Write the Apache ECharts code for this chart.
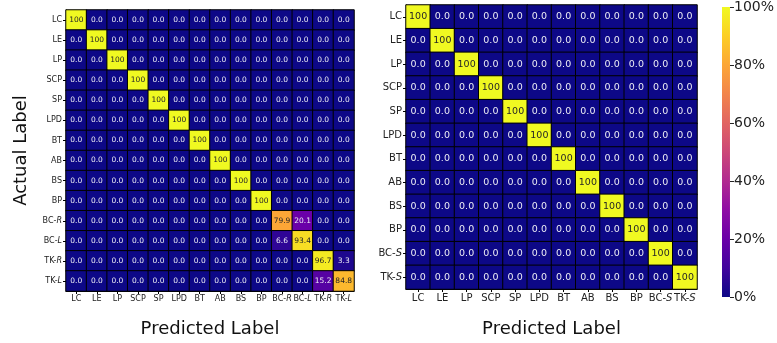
<!DOCTYPE html>
<html>
<head>
<meta charset="utf-8">
<script src="https://cdn.jsdelivr.net/npm/echarts@6/dist/echarts.min.js"></script>
<style>
  html, body { margin: 0; padding: 0; background: #fff; }
  #chart { width: 777px; height: 343px; }
</style>
</head>
<body>
<div id="chart"></div>
<script>
// categories
const leftLabels = ["LC", "LE", "LP", "SCP", "SP", "LPD", "BT", "AB", "BS", "BP", "BC-R", "BC-L", "TK-R", "TK-L"];
const rightLabels = ["LC", "LE", "LP", "SCP", "SP", "LPD", "BT", "AB", "BS", "BP", "BC-S", "TK-S"];

// confusion matrix rows (actual) -> cols (predicted), percent
const leftMatrix = [
  [100, 0, 0, 0, 0, 0, 0, 0, 0, 0, 0, 0, 0, 0],
  [0, 100, 0, 0, 0, 0, 0, 0, 0, 0, 0, 0, 0, 0],
  [0, 0, 100, 0, 0, 0, 0, 0, 0, 0, 0, 0, 0, 0],
  [0, 0, 0, 100, 0, 0, 0, 0, 0, 0, 0, 0, 0, 0],
  [0, 0, 0, 0, 100, 0, 0, 0, 0, 0, 0, 0, 0, 0],
  [0, 0, 0, 0, 0, 100, 0, 0, 0, 0, 0, 0, 0, 0],
  [0, 0, 0, 0, 0, 0, 100, 0, 0, 0, 0, 0, 0, 0],
  [0, 0, 0, 0, 0, 0, 0, 100, 0, 0, 0, 0, 0, 0],
  [0, 0, 0, 0, 0, 0, 0, 0, 100, 0, 0, 0, 0, 0],
  [0, 0, 0, 0, 0, 0, 0, 0, 0, 100, 0, 0, 0, 0],
  [0, 0, 0, 0, 0, 0, 0, 0, 0, 0, 79.9, 20.1, 0, 0],
  [0, 0, 0, 0, 0, 0, 0, 0, 0, 0, 6.6, 93.4, 0, 0],
  [0, 0, 0, 0, 0, 0, 0, 0, 0, 0, 0, 0, 96.7, 3.3],
  [0, 0, 0, 0, 0, 0, 0, 0, 0, 0, 0, 0, 15.2, 84.8]
];
const rightMatrix = [
  [100, 0, 0, 0, 0, 0, 0, 0, 0, 0, 0, 0],
  [0, 100, 0, 0, 0, 0, 0, 0, 0, 0, 0, 0],
  [0, 0, 100, 0, 0, 0, 0, 0, 0, 0, 0, 0],
  [0, 0, 0, 100, 0, 0, 0, 0, 0, 0, 0, 0],
  [0, 0, 0, 0, 100, 0, 0, 0, 0, 0, 0, 0],
  [0, 0, 0, 0, 0, 100, 0, 0, 0, 0, 0, 0],
  [0, 0, 0, 0, 0, 0, 100, 0, 0, 0, 0, 0],
  [0, 0, 0, 0, 0, 0, 0, 100, 0, 0, 0, 0],
  [0, 0, 0, 0, 0, 0, 0, 0, 100, 0, 0, 0],
  [0, 0, 0, 0, 0, 0, 0, 0, 0, 100, 0, 0],
  [0, 0, 0, 0, 0, 0, 0, 0, 0, 0, 100, 0],
  [0, 0, 0, 0, 0, 0, 0, 0, 0, 0, 0, 100]
];

// colorbar ticks
const cbarTicks = [0, 20, 40, 60, 80, 100];
const cbarValue = [100];

// plasma colormap
const plasma = ["#0d0887", "#41049d", "#6a00a8", "#8f0da4", "#b12a90", "#cc4778",
  "#e16462", "#f2844b", "#fca636", "#fcce25", "#f0f921"];

const font = "DejaVu Sans";

function cellData(matrix) {
  let out = [];
  matrix.forEach((row, r) => {
    row.forEach((v, c) => {
      out.push({
        value: [c, r, v],
        label: { color: v > 50 ? "#262626" : "#ececf4" }
      });
    });
  });
  return out;
}

// "BC-R" -> BC-{i|R}
function italicTail(v) {
  const m = v.match(/^(BC|TK)-(.)$/);
  return m ? m[1] + "-{i|" + m[2] + "}" : v;
}

function catAxis(labels, size, extra) {
  return Object.assign({
    type: "category",
    data: labels,
    axisLine: { show: true, lineStyle: { color: "#000", width: 1 } },
    axisTick: { show: true, length: 3, interval: 0, alignWithLabel: true, lineStyle: { color: "#000" } },
    axisLabel: {
      interval: 0, fontFamily: font, fontSize: size, color: "#222", margin: 4,
      formatter: italicTail,
      rich: { i: { fontFamily: font, fontSize: size, fontStyle: "italic", color: "#222" } }
    },
    splitLine: { show: false }
  }, extra);
}

const chart = echarts.init(document.getElementById("chart"));
const option = {
  backgroundColor: "#fff",
  animation: false,
  grid: [
    { left: 66, top: 10, width: 288, height: 288 },
    { left: 406, top: 5, width: 291, height: 292 },
    { left: 722, top: 5, width: 15, height: 292 }
  ],
  xAxis: [
    catAxis(leftLabels, 8, {
      gridIndex: 0, name: "Predicted Label", nameLocation: "middle", nameGap: 29,
      nameTextStyle: { fontFamily: font, fontSize: 18, color: "#111" }
    }),
    catAxis(rightLabels, 10, {
      gridIndex: 1, name: "Predicted Label", nameLocation: "middle", nameGap: 31,
      nameTextStyle: { fontFamily: font, fontSize: 18, color: "#111" }
    }),
    { gridIndex: 2, type: "category", data: [""], show: false }
  ],
  yAxis: [
    catAxis(leftLabels, 8, {
      gridIndex: 0, inverse: true, name: "Actual Label", nameLocation: "middle", nameGap: 36,
      nameTextStyle: { fontFamily: font, fontSize: 18, color: "#111" }
    }),
    catAxis(rightLabels, 10, { gridIndex: 1, inverse: true }),
    {
      gridIndex: 2, type: "value", min: 0, max: 100, interval: 20, position: "right",
      axisLine: { show: false },
      axisTick: { show: true, length: 4, lineStyle: { color: "#222" } },
      axisLabel: { fontFamily: font, fontSize: 14, color: "#222", margin: 4, formatter: v => v + "%" },
      splitLine: { show: false }
    }
  ],
  visualMap: {
    show: false, min: 0, max: 100, dimension: 2, seriesIndex: [0, 1],
    inRange: { color: plasma }
  },
  series: [
    {
      type: "heatmap", xAxisIndex: 0, yAxisIndex: 0,
      data: cellData(leftMatrix),
      itemStyle: { borderColor: "#000", borderWidth: 1 },
      label: {
        show: true, fontFamily: font, fontSize: 7.5,
        formatter: p => p.value[2] === 100 ? "100" : p.value[2].toFixed(1)
      },
      emphasis: { disabled: true }
    },
    {
      type: "heatmap", xAxisIndex: 1, yAxisIndex: 1,
      data: cellData(rightMatrix),
      itemStyle: { borderColor: "#000", borderWidth: 1 },
      label: {
        show: true, fontFamily: font, fontSize: 9.5,
        formatter: p => p.value[2] === 100 ? "100" : p.value[2].toFixed(1)
      },
      emphasis: { disabled: true }
    },
    {
      type: "bar", xAxisIndex: 2, yAxisIndex: 2, barWidth: "100%",
      data: cbarValue,
      itemStyle: {
        color: new echarts.graphic.LinearGradient(0, 1, 0, 0,
          plasma.map((c, i) => ({ offset: i / (plasma.length - 1), color: c })))
      },
      silent: true
    }
  ]
};
chart.setOption(option);
</script>
</body>
</html>
